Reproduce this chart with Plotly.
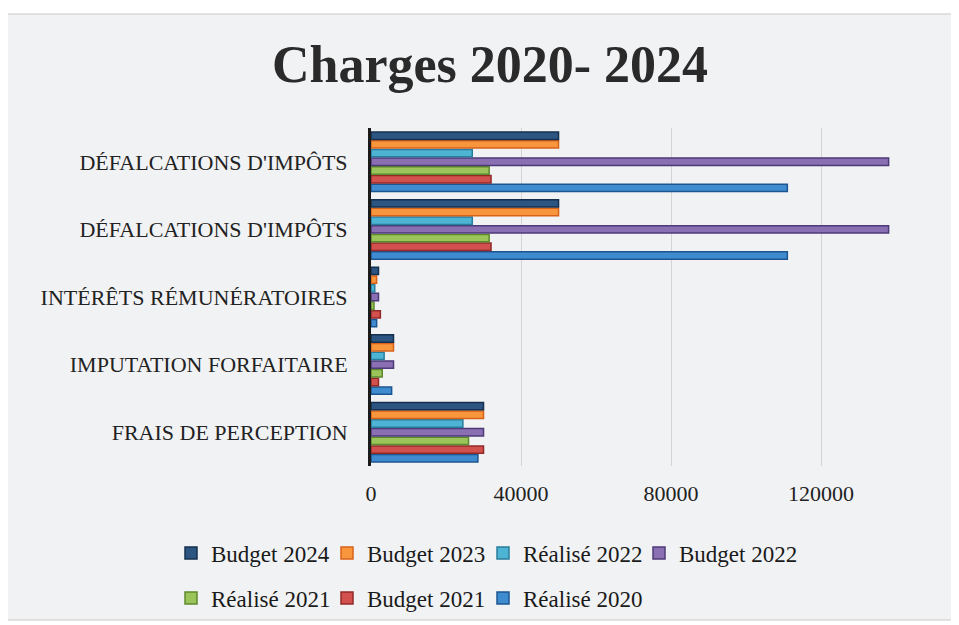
import plotly.graph_objects as go

categories = ["FRAIS DE PERCEPTION", "IMPUTATION FORFAITAIRE", "INTÉRÊTS RÉMUNÉRATOIRES",
              "DÉFALCATIONS D'IMPÔTS", "DÉFALCATIONS D'IMPÔTS"]

series_names = ["Réalisé 2020", "Budget 2021", "Réalisé 2021", "Budget 2022",
                "Réalisé 2022", "Budget 2023", "Budget 2024"]

realise_2020 = [28500, 5500, 1500, 111000, 111000]
budget_2021 = [30000, 2000, 2500, 32000, 32000]
realise_2021 = [26000, 3000, 800, 31500, 31500]
budget_2022 = [30000, 6000, 2000, 138000, 138000]
realise_2022 = [24500, 3500, 1000, 27000, 27000]
budget_2023 = [30000, 6000, 1500, 50000, 50000]
budget_2024 = [30000, 6000, 2000, 50000, 50000]

values = [realise_2020, budget_2021, realise_2021, budget_2022,
          realise_2022, budget_2023, budget_2024]
fills = ["#3f8bd0", "#d2504d", "#9bc45a", "#8a6fb3", "#4db4d4", "#f7963c", "#2c5582"]
edges = ["#1d5590", "#922a28", "#5d8a2c", "#4d3a78", "#2a7c9c", "#d8621a", "#15304f"]
legend_ids = ["legend2", "legend2", "legend2", "legend", "legend", "legend", "legend"]
# last entry of each legend row gets room for its full label
legend_widths = [150, 111, 111, 150, 111, 111, 111]

xticks = [0, 40000, 80000, 120000]

ypos = list(range(len(categories)))

fig = go.Figure()
for name, vals, fc, ec, lg, lw in zip(series_names, values, fills, edges, legend_ids, legend_widths):
    fig.add_trace(go.Bar(
        x=vals, y=ypos, orientation="h", name=name,
        marker=dict(color=fc, line=dict(color=ec, width=1.5)),
        legend=lg, legendwidth=lw,
    ))

serif = "Liberation Serif"
OFF = 8  # page body margin
W, H = 959 - OFF, 625 - OFF
# plot area in page pixels: x 371..955, y 128..466
L = 371 - OFF
T = 128 - OFF
R = W - (955 - OFF)
B = H - (466 - OFF)
pw, ph = W - L - R, H - T - B

def px(xp):
    return (xp - OFF - L) / pw

def py(yp):
    return (H - B - (yp - OFF)) / ph

fig.update_layout(
    width=W, height=H,
    margin=dict(l=L, r=R, t=T, b=B, autoexpand=False),
    paper_bgcolor="white",
    plot_bgcolor="rgba(0,0,0,0)",
    barmode="group",
    bargap=0.1,
    bargroupgap=0.15,
    font=dict(family=serif, color="#222222"),
    title=dict(text="<b>Charges 2020- 2024</b>", xref="container", x=(490 - OFF) / W,
               xanchor="center", yref="container", y=1 - (64 - OFF) / H, yanchor="middle",
               font=dict(family=serif, size=52, color="#2a2a2a")),
    xaxis=dict(range=[0, 155700], tickvals=xticks, ticktext=[str(v) for v in xticks],
               showgrid=True, gridcolor="#d4d4d4", gridwidth=1, zeroline=False,
               showline=False, ticks="", tickfont=dict(size=22, color="#222222"),
               ticklabelstandoff=12, automargin=False),
    yaxis=dict(tickvals=ypos, ticktext=categories, range=[-0.5, len(categories) - 0.5],
               showgrid=False, zeroline=False, showline=True, linecolor="#1a1a1a",
               linewidth=3, ticks="", tickfont=dict(size=22, color="#222222"),
               ticklabelstandoff=16, automargin=False),
    legend=dict(orientation="h", x=px(171), xanchor="left", y=py(553), yanchor="middle",
                traceorder="reversed", font=dict(size=23, color="#1a1a1a"),
                bgcolor="rgba(0,0,0,0)", itemwidth=30, entrywidth=111),
    legend2=dict(orientation="h", x=px(171), xanchor="left", y=py(598), yanchor="middle",
                 traceorder="reversed", font=dict(size=23, color="#1a1a1a"),
                 bgcolor="rgba(0,0,0,0)", itemwidth=30, entrywidth=111),
    shapes=[dict(type="rect", xref="paper", yref="paper", layer="below",
                 x0=px(5), x1=px(958), y0=py(620), y1=py(14),
                 fillcolor="#f1f2f4", line=dict(color="#c8c8c8", width=1))],
)

fig.write_html("out.html")
